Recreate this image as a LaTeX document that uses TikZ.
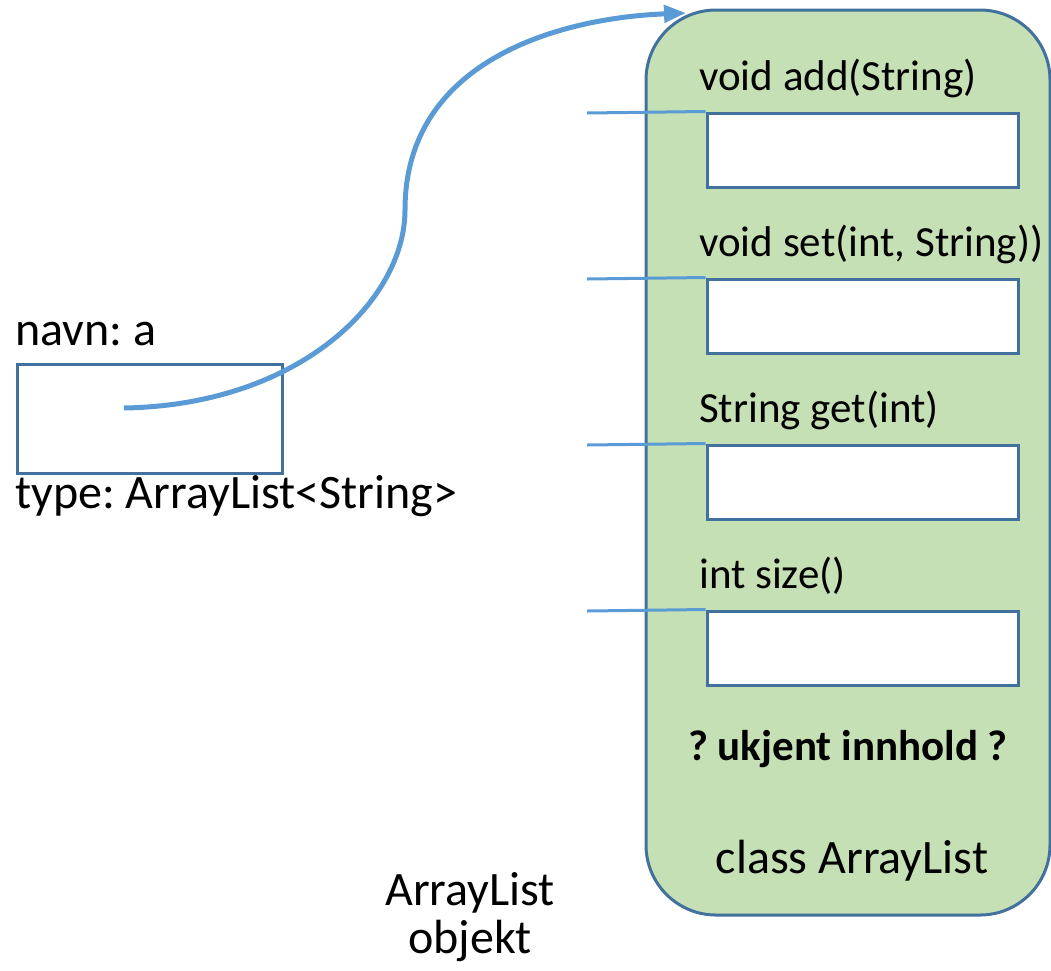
\documentclass[tikz,border=0pt]{standalone}
\usepackage{fontspec}
\setmainfont{Carlito}
\usetikzlibrary{arrows.meta}
\definecolor{boxborder}{HTML}{41719C}
\definecolor{linkblue}{HTML}{5B9BD5}
\definecolor{objfill}{HTML}{C5E0B4}
\frenchspacing
\tikzset{
  txt/.style={inner sep=0pt, font=\fontsize{43}{50}\selectfont},
  bigtxt/.style={inner sep=0pt, font=\fontsize{48}{56}\selectfont},
  objbox/.style={draw=boxborder, line width=3pt, fill=objfill, rounded corners=70pt, minimum width=404pt, minimum height=905pt, inner sep=0pt},
  slot/.style={draw=boxborder, line width=3pt, fill=white, minimum width=311pt, minimum height=74pt, inner sep=0pt},
  varbox/.style={draw=boxborder, line width=3pt, fill=white, minimum width=265pt, minimum height=109pt, inner sep=0pt},
  link/.style={draw=linkblue, line width=3pt},
  ref/.style={draw=linkblue, line width=5pt, -{Triangle[length=22pt,width=17pt]}}
}
\begin{document}
\begin{tikzpicture}[x=1pt,y=-1pt]
\useasboundingbox (0,0) rectangle (1051,970);
% object
\node[objbox] (obj) at (848,462.5) {};
\node[slot] (m1) at (862.5,150) {};
\node[slot] (m2) at (862.5,316) {};
\node[slot] (m3) at (862.5,482) {};
\node[slot] (m4) at (862.5,648) {};
\coordinate (l1) at (587,113);
\coordinate (l2) at (587,279);
\coordinate (l3) at (587,445);
\coordinate (l4) at (587,611);
\draw[link] (l1) -- (m1.north west);
\draw[link] (l2) -- (m2.north west);
\draw[link] (l3) -- (m3.north west);
\draw[link] (l4) -- (m4.north west);
\node[txt, anchor=base west] (t1) at (699,90) {void add(String)};
\node[txt, anchor=base west] (t2) at (699,256) {void set(int, String))};
\node[txt, anchor=base west] (t3) at (699,422) {String get(int)};
\node[txt, anchor=base west] (t4) at (699,588) {int size()};
\node[txt, anchor=base, font=\fontsize{43}{50}\selectfont\bfseries] (unk) at (848,760) {? ukjent innhold ?};
\node[bigtxt, anchor=base] (cls) at (852,873) {class ArrayList};
% variable
\node[bigtxt, anchor=base west] (navn) at (15,345) {navn: a};
\node[varbox] (var) at (149.5,418.5) {};
\node[bigtxt, anchor=base west] (type) at (15,508) {type: ArrayList<String>};
\node[bigtxt, anchor=base] (lab1) at (470,905) {ArrayList};
\node[bigtxt, anchor=base] (lab2) at (470,953) {objekt};
% reference
\coordinate (ptr) at (124,408);
\coordinate (tip) at (686,13);
\draw[ref] (ptr) .. controls (300,405) and (405,300) .. (405,210)
  .. controls (405,60) and (560,18) .. (tip);
\end{tikzpicture}
\end{document}
